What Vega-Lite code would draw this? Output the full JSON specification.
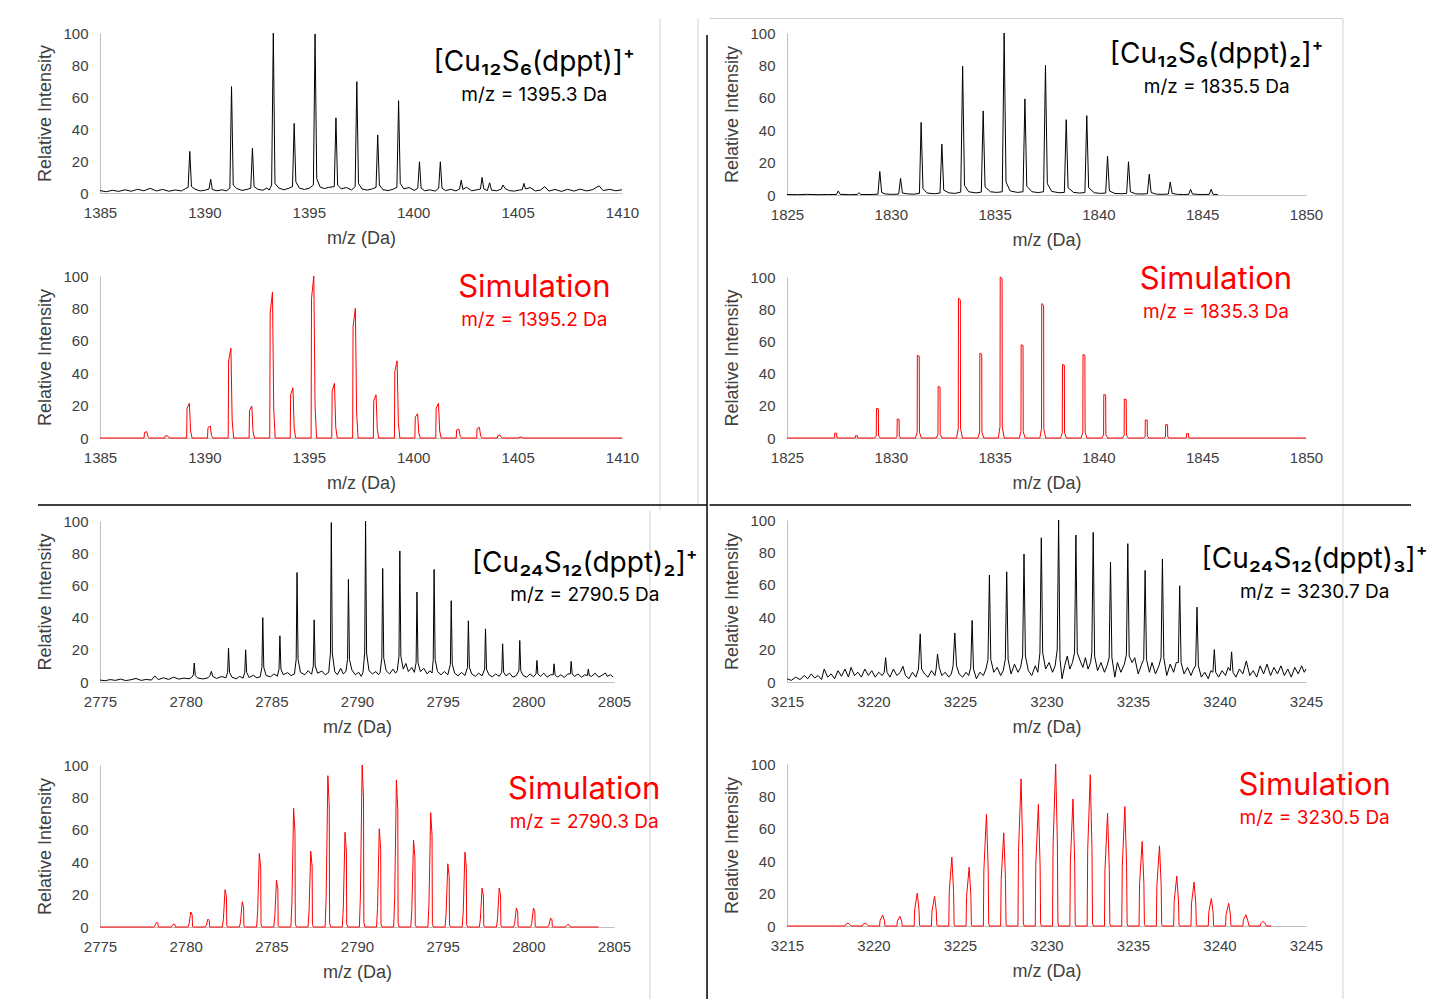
{
"$schema": "https://vega.github.io/schema/vega-lite/v6.json",
"background": "white",
"padding": {"left": 36, "top": 18, "right": 5, "bottom": 5},
"datasets": {
"A": [{"x":1385,"y":1.5},{"x":1385.3,"y":0.8},{"x":1385.6,"y":1.7},{"x":1385.9,"y":1},{"x":1386.2,"y":2},{"x":1386.5,"y":1.1},{"x":1386.8,"y":2.3},{"x":1387.1,"y":1.4},{"x":1387.4,"y":2.9},{"x":1387.7,"y":1.3},{"x":1388,"y":2.2},{"x":1388.3,"y":1.1},{"x":1388.6,"y":1.9},{"x":1388.9,"y":1.3},{"x":1389.1,"y":2.8},{"x":1389.22,"y":3.5},{"x":1389.3,"y":26},{"x":1389.38,"y":4},{"x":1389.55,"y":2.4},{"x":1389.8,"y":1.3},{"x":1390.05,"y":1.8},{"x":1390.22,"y":2.5},{"x":1390.3,"y":8.6},{"x":1390.38,"y":2.2},{"x":1390.6,"y":1.4},{"x":1390.85,"y":2},{"x":1391.05,"y":1.3},{"x":1391.22,"y":3},{"x":1391.3,"y":66.5},{"x":1391.38,"y":5},{"x":1391.55,"y":2.8},{"x":1391.8,"y":1.6},{"x":1392.05,"y":2.3},{"x":1392.22,"y":3},{"x":1392.3,"y":28},{"x":1392.38,"y":4},{"x":1392.55,"y":2.4},{"x":1392.8,"y":1.7},{"x":1393,"y":3.2},{"x":1393.1,"y":1.8},{"x":1393.22,"y":5},{"x":1393.3,"y":100},{"x":1393.38,"y":6},{"x":1393.55,"y":3.2},{"x":1393.8,"y":2},{"x":1394.05,"y":3},{"x":1394.22,"y":4},{"x":1394.3,"y":43.5},{"x":1394.38,"y":7},{"x":1394.55,"y":3},{"x":1394.8,"y":2.2},{"x":1395.05,"y":3.2},{"x":1395.22,"y":5},{"x":1395.3,"y":99.4},{"x":1395.38,"y":9},{"x":1395.55,"y":3.6},{"x":1395.75,"y":2.8},{"x":1395.95,"y":3.5},{"x":1396.22,"y":4},{"x":1396.3,"y":47},{"x":1396.38,"y":5},{"x":1396.55,"y":2.6},{"x":1396.8,"y":3.4},{"x":1397.05,"y":1.9},{"x":1397.22,"y":4},{"x":1397.3,"y":69.6},{"x":1397.38,"y":6},{"x":1397.55,"y":2.5},{"x":1397.8,"y":1.8},{"x":1398.05,"y":2.6},{"x":1398.22,"y":3.5},{"x":1398.3,"y":36.3},{"x":1398.38,"y":5},{"x":1398.55,"y":2.1},{"x":1398.8,"y":1.5},{"x":1399.05,"y":2.4},{"x":1399.22,"y":3.5},{"x":1399.3,"y":57.7},{"x":1399.38,"y":6},{"x":1399.55,"y":2.6},{"x":1399.8,"y":3.4},{"x":1400.05,"y":1.6},{"x":1400.22,"y":3},{"x":1400.3,"y":19.5},{"x":1400.38,"y":3},{"x":1400.55,"y":1.4},{"x":1400.8,"y":2},{"x":1401.05,"y":1.2},{"x":1401.22,"y":3},{"x":1401.3,"y":19.5},{"x":1401.38,"y":3},{"x":1401.55,"y":1.5},{"x":1401.8,"y":2.3},{"x":1402.05,"y":1.3},{"x":1402.22,"y":2.5},{"x":1402.3,"y":8},{"x":1402.38,"y":2.2},{"x":1402.55,"y":3.6},{"x":1402.8,"y":1.4},{"x":1403.05,"y":2},{"x":1403.22,"y":2.5},{"x":1403.3,"y":9.7},{"x":1403.38,"y":2.6},{"x":1403.55,"y":1.5},{"x":1403.66,"y":6.4},{"x":1403.75,"y":1.8},{"x":1404,"y":1.4},{"x":1404.22,"y":2.5},{"x":1404.3,"y":5},{"x":1404.4,"y":2.8},{"x":1404.6,"y":1.5},{"x":1404.85,"y":1.2},{"x":1405.1,"y":1.9},{"x":1405.22,"y":2},{"x":1405.3,"y":6},{"x":1405.38,"y":2.5},{"x":1405.6,"y":3.4},{"x":1405.85,"y":1.3},{"x":1406.1,"y":1.8},{"x":1406.3,"y":4},{"x":1406.5,"y":1.2},{"x":1406.8,"y":2.2},{"x":1407.1,"y":1},{"x":1407.4,"y":2.3},{"x":1407.7,"y":1.2},{"x":1408,"y":2.4},{"x":1408.3,"y":1.3},{"x":1408.6,"y":2.1},{"x":1408.9,"y":4.5},{"x":1409.1,"y":1.5},{"x":1409.4,"y":2.3},{"x":1409.7,"y":1.4},{"x":1410,"y":2}],
"B": [{"x":1385,"y":0},{"x":1387.11,"y":0},{"x":1387.13,"y":3.4},{"x":1387.24,"y":3.9},{"x":1387.3,"y":0.8},{"x":1387.37,"y":0},{"x":1388.1,"y":0},{"x":1388.12,"y":1.2},{"x":1388.23,"y":1.4},{"x":1388.29,"y":0.3},{"x":1388.36,"y":0},{"x":1389.15,"y":0},{"x":1389.17,"y":18.4},{"x":1389.28,"y":21.4},{"x":1389.34,"y":4.3},{"x":1389.41,"y":0},{"x":1390.15,"y":0},{"x":1390.17,"y":6.4},{"x":1390.28,"y":7.4},{"x":1390.34,"y":1.5},{"x":1390.41,"y":0},{"x":1391.14,"y":0},{"x":1391.16,"y":47.6},{"x":1391.27,"y":55.4},{"x":1391.33,"y":11},{"x":1391.4,"y":0},{"x":1392.14,"y":0},{"x":1392.16,"y":17},{"x":1392.27,"y":19.7},{"x":1392.33,"y":3.9},{"x":1392.4,"y":0},{"x":1393.13,"y":0},{"x":1393.15,"y":77.4},{"x":1393.26,"y":90},{"x":1393.32,"y":18},{"x":1393.39,"y":0},{"x":1394.11,"y":0},{"x":1394.13,"y":26.7},{"x":1394.24,"y":31},{"x":1394.3,"y":6.2},{"x":1394.37,"y":0},{"x":1395.11,"y":0},{"x":1395.13,"y":86},{"x":1395.24,"y":100},{"x":1395.3,"y":20},{"x":1395.37,"y":0},{"x":1396.1,"y":0},{"x":1396.12,"y":29},{"x":1396.23,"y":33.7},{"x":1396.29,"y":6.7},{"x":1396.36,"y":0},{"x":1397.1,"y":0},{"x":1397.12,"y":68.8},{"x":1397.23,"y":80},{"x":1397.29,"y":16},{"x":1397.36,"y":0},{"x":1398.09,"y":0},{"x":1398.11,"y":23},{"x":1398.22,"y":26.7},{"x":1398.28,"y":5.3},{"x":1398.35,"y":0},{"x":1399.1,"y":0},{"x":1399.12,"y":41},{"x":1399.23,"y":47.6},{"x":1399.29,"y":9.5},{"x":1399.36,"y":0},{"x":1400.08,"y":0},{"x":1400.1,"y":12.9},{"x":1400.21,"y":15},{"x":1400.27,"y":3},{"x":1400.34,"y":0},{"x":1401.08,"y":0},{"x":1401.1,"y":18.4},{"x":1401.21,"y":21.4},{"x":1401.27,"y":4.3},{"x":1401.34,"y":0},{"x":1402.06,"y":0},{"x":1402.08,"y":5},{"x":1402.19,"y":5.5},{"x":1402.25,"y":1.1},{"x":1402.32,"y":0},{"x":1403.04,"y":0},{"x":1403.06,"y":5.8},{"x":1403.17,"y":6.6},{"x":1403.23,"y":1.3},{"x":1403.3,"y":0},{"x":1404.03,"y":0},{"x":1404.05,"y":1.5},{"x":1404.16,"y":1.8},{"x":1404.22,"y":0.4},{"x":1404.29,"y":0},{"x":1405.02,"y":0},{"x":1405.15,"y":0.6},{"x":1405.28,"y":0},{"x":1410,"y":0}],
"C": [{"x":1825,"y":0.3},{"x":1825.5,"y":0.2},{"x":1826,"y":0.4},{"x":1826.5,"y":0.2},{"x":1827,"y":0.3},{"x":1827.38,"y":0.3},{"x":1827.47,"y":2.5},{"x":1827.56,"y":0.4},{"x":1828,"y":0.2},{"x":1828.38,"y":0.3},{"x":1828.47,"y":1.4},{"x":1828.56,"y":0.3},{"x":1829,"y":0.3},{"x":1829.38,"y":0.5},{"x":1829.47,"y":14.5},{"x":1829.56,"y":1.5},{"x":1829.75,"y":0.6},{"x":1830.1,"y":0.4},{"x":1830.38,"y":0.6},{"x":1830.47,"y":10.3},{"x":1830.56,"y":1.2},{"x":1830.8,"y":0.7},{"x":1831.1,"y":0.5},{"x":1831.38,"y":1},{"x":1831.46,"y":44.8},{"x":1831.55,"y":4},{"x":1831.75,"y":1.2},{"x":1832.1,"y":0.8},{"x":1832.37,"y":1.2},{"x":1832.46,"y":31.4},{"x":1832.55,"y":3},{"x":1832.8,"y":1.3},{"x":1833.1,"y":1},{"x":1833.37,"y":1.8},{"x":1833.46,"y":79.5},{"x":1833.55,"y":6},{"x":1833.75,"y":2},{"x":1834.1,"y":1.3},{"x":1834.36,"y":1.8},{"x":1834.45,"y":51.9},{"x":1834.54,"y":5},{"x":1834.8,"y":2},{"x":1835.1,"y":1.6},{"x":1835.37,"y":2},{"x":1835.46,"y":100},{"x":1835.55,"y":8},{"x":1835.75,"y":2.5},{"x":1836.1,"y":1.6},{"x":1836.37,"y":2},{"x":1836.46,"y":59.3},{"x":1836.55,"y":5.5},{"x":1836.8,"y":2},{"x":1837.1,"y":1.5},{"x":1837.36,"y":2},{"x":1837.45,"y":80},{"x":1837.54,"y":7},{"x":1837.75,"y":2.2},{"x":1838.1,"y":1.4},{"x":1838.36,"y":1.6},{"x":1838.45,"y":46.5},{"x":1838.54,"y":4.5},{"x":1838.8,"y":1.6},{"x":1839.1,"y":1.2},{"x":1839.35,"y":1.5},{"x":1839.44,"y":49},{"x":1839.53,"y":4.5},{"x":1839.8,"y":1.4},{"x":1840.1,"y":1},{"x":1840.35,"y":1.2},{"x":1840.44,"y":24},{"x":1840.53,"y":2.5},{"x":1840.8,"y":0.9},{"x":1841.1,"y":0.8},{"x":1841.36,"y":1},{"x":1841.45,"y":20.5},{"x":1841.54,"y":2},{"x":1841.8,"y":0.7},{"x":1842.1,"y":0.6},{"x":1842.36,"y":0.8},{"x":1842.45,"y":12.8},{"x":1842.54,"y":1.5},{"x":1842.8,"y":0.5},{"x":1843.1,"y":0.4},{"x":1843.37,"y":0.6},{"x":1843.46,"y":8},{"x":1843.55,"y":1},{"x":1843.8,"y":0.4},{"x":1844.1,"y":0.3},{"x":1844.35,"y":0.4},{"x":1844.44,"y":3.5},{"x":1844.53,"y":0.6},{"x":1844.9,"y":0.3},{"x":1845.34,"y":0.4},{"x":1845.43,"y":3.5},{"x":1845.52,"y":0.4},{"x":1845.75,"y":0.3}],
"D": [{"x":1825,"y":0},{"x":1827.21,"y":0},{"x":1827.29,"y":0.2},{"x":1827.3,"y":3},{"x":1827.39,"y":3},{"x":1827.4,"y":0.2},{"x":1827.49,"y":0},{"x":1828.21,"y":0},{"x":1828.29,"y":0.1},{"x":1828.3,"y":1.4},{"x":1828.39,"y":1.4},{"x":1828.4,"y":0.1},{"x":1828.49,"y":0},{"x":1829.22,"y":0},{"x":1829.3,"y":1.3},{"x":1829.31,"y":18.4},{"x":1829.4,"y":18.2},{"x":1829.41,"y":1.3},{"x":1829.5,"y":0},{"x":1830.22,"y":0},{"x":1830.3,"y":0.8},{"x":1830.31,"y":11.8},{"x":1830.4,"y":11.6},{"x":1830.41,"y":0.8},{"x":1830.5,"y":0},{"x":1831.19,"y":0},{"x":1831.27,"y":3.6},{"x":1831.28,"y":51.4},{"x":1831.37,"y":50.8},{"x":1831.38,"y":3.6},{"x":1831.47,"y":0},{"x":1832.19,"y":0},{"x":1832.27,"y":2.2},{"x":1832.28,"y":32},{"x":1832.37,"y":31.6},{"x":1832.38,"y":2.2},{"x":1832.47,"y":0},{"x":1833.17,"y":0},{"x":1833.25,"y":6},{"x":1833.26,"y":86.8},{"x":1833.35,"y":85.8},{"x":1833.36,"y":6},{"x":1833.45,"y":0},{"x":1834.2,"y":0},{"x":1834.28,"y":3.7},{"x":1834.29,"y":52.7},{"x":1834.38,"y":52},{"x":1834.39,"y":3.7},{"x":1834.48,"y":0},{"x":1835.18,"y":0},{"x":1835.26,"y":7},{"x":1835.27,"y":100},{"x":1835.36,"y":99},{"x":1835.37,"y":7},{"x":1835.46,"y":0},{"x":1836.19,"y":0},{"x":1836.27,"y":4},{"x":1836.28,"y":57.9},{"x":1836.37,"y":57.3},{"x":1836.38,"y":4},{"x":1836.47,"y":0},{"x":1837.18,"y":0},{"x":1837.26,"y":5.8},{"x":1837.27,"y":83.5},{"x":1837.36,"y":82.5},{"x":1837.37,"y":5.8},{"x":1837.46,"y":0},{"x":1838.18,"y":0},{"x":1838.26,"y":3.2},{"x":1838.27,"y":45.7},{"x":1838.36,"y":45.2},{"x":1838.37,"y":3.2},{"x":1838.46,"y":0},{"x":1839.17,"y":0},{"x":1839.25,"y":3.6},{"x":1839.26,"y":51.9},{"x":1839.35,"y":51.3},{"x":1839.36,"y":3.6},{"x":1839.45,"y":0},{"x":1840.17,"y":0},{"x":1840.25,"y":1.9},{"x":1840.26,"y":27},{"x":1840.35,"y":26.7},{"x":1840.36,"y":1.9},{"x":1840.45,"y":0},{"x":1841.16,"y":0},{"x":1841.24,"y":1.7},{"x":1841.25,"y":24.2},{"x":1841.34,"y":23.9},{"x":1841.35,"y":1.7},{"x":1841.44,"y":0},{"x":1842.17,"y":0},{"x":1842.25,"y":0.8},{"x":1842.26,"y":11.2},{"x":1842.35,"y":11.1},{"x":1842.36,"y":0.8},{"x":1842.45,"y":0},{"x":1843.15,"y":0},{"x":1843.23,"y":0.6},{"x":1843.24,"y":8.3},{"x":1843.33,"y":8.2},{"x":1843.34,"y":0.6},{"x":1843.43,"y":0},{"x":1844.16,"y":0},{"x":1844.24,"y":0.2},{"x":1844.25,"y":2.7},{"x":1844.34,"y":2.7},{"x":1844.35,"y":0.2},{"x":1844.44,"y":0},{"x":1850,"y":0}],
"E": [{"x":2775,"y":1.2},{"x":2775.3,"y":0.8},{"x":2775.6,"y":1.5},{"x":2775.9,"y":1},{"x":2776.2,"y":1.8},{"x":2776.5,"y":0.9},{"x":2776.8,"y":1.4},{"x":2777.1,"y":2.2},{"x":2777.4,"y":1},{"x":2777.7,"y":1.6},{"x":2778,"y":1.2},{"x":2778.2,"y":3.8},{"x":2778.4,"y":1.5},{"x":2778.7,"y":2.6},{"x":2779,"y":1.6},{"x":2779.3,"y":3},{"x":2779.6,"y":1.8},{"x":2779.9,"y":2.4},{"x":2780.2,"y":2},{"x":2780.35,"y":2.8},{"x":2780.45,"y":4.5},{"x":2780.5,"y":11.8},{"x":2780.56,"y":4},{"x":2780.7,"y":2.5},{"x":2781,"y":1.9},{"x":2781.3,"y":2.6},{"x":2781.42,"y":4},{"x":2781.5,"y":6.6},{"x":2781.58,"y":3.5},{"x":2781.8,"y":2.2},{"x":2782.1,"y":3.4},{"x":2782.35,"y":2.6},{"x":2782.45,"y":6},{"x":2782.5,"y":21},{"x":2782.56,"y":6},{"x":2782.7,"y":3},{"x":2782.95,"y":2},{"x":2783.15,"y":3.5},{"x":2783.35,"y":2.4},{"x":2783.45,"y":6},{"x":2783.5,"y":20},{"x":2783.56,"y":6},{"x":2783.7,"y":2.8},{"x":2783.95,"y":4.2},{"x":2784.15,"y":2.6},{"x":2784.35,"y":3.2},{"x":2784.45,"y":9},{"x":2784.5,"y":40},{"x":2784.56,"y":9},{"x":2784.7,"y":4},{"x":2784.95,"y":3.2},{"x":2785.15,"y":5},{"x":2785.35,"y":3.6},{"x":2785.45,"y":8},{"x":2785.5,"y":28.7},{"x":2785.56,"y":8},{"x":2785.7,"y":4.5},{"x":2785.95,"y":5.8},{"x":2786.15,"y":4},{"x":2786.35,"y":5},{"x":2786.45,"y":14},{"x":2786.5,"y":68},{"x":2786.56,"y":14},{"x":2786.7,"y":6},{"x":2786.95,"y":4.5},{"x":2787.15,"y":7},{"x":2787.35,"y":4.8},{"x":2787.45,"y":10},{"x":2787.5,"y":38.6},{"x":2787.56,"y":10},{"x":2787.7,"y":5.5},{"x":2787.95,"y":6.8},{"x":2788.15,"y":4.5},{"x":2788.35,"y":6},{"x":2788.45,"y":18},{"x":2788.5,"y":99},{"x":2788.56,"y":18},{"x":2788.7,"y":6.5},{"x":2788.85,"y":4.5},{"x":2789.05,"y":8.5},{"x":2789.2,"y":5},{"x":2789.35,"y":6.5},{"x":2789.45,"y":14},{"x":2789.5,"y":63.7},{"x":2789.56,"y":14},{"x":2789.7,"y":7.5},{"x":2789.9,"y":4.5},{"x":2790.1,"y":6},{"x":2790.25,"y":3.5},{"x":2790.35,"y":6},{"x":2790.45,"y":18},{"x":2790.5,"y":100},{"x":2790.56,"y":18},{"x":2790.7,"y":7},{"x":2790.9,"y":5},{"x":2791.1,"y":6.5},{"x":2791.25,"y":4.5},{"x":2791.35,"y":6},{"x":2791.45,"y":15},{"x":2791.5,"y":70.5},{"x":2791.56,"y":15},{"x":2791.7,"y":7},{"x":2791.9,"y":5},{"x":2792.1,"y":8},{"x":2792.25,"y":5.5},{"x":2792.35,"y":7},{"x":2792.45,"y":16},{"x":2792.5,"y":81.4},{"x":2792.56,"y":16},{"x":2792.7,"y":8},{"x":2792.85,"y":11.5},{"x":2793,"y":6.5},{"x":2793.2,"y":9},{"x":2793.35,"y":6},{"x":2793.45,"y":12},{"x":2793.5,"y":55.9},{"x":2793.56,"y":12},{"x":2793.7,"y":6.5},{"x":2793.9,"y":8.5},{"x":2794.1,"y":5},{"x":2794.25,"y":7},{"x":2794.38,"y":5.5},{"x":2794.45,"y":14},{"x":2794.5,"y":69.9},{"x":2794.56,"y":14},{"x":2794.7,"y":6.5},{"x":2794.9,"y":4.5},{"x":2795.1,"y":6.5},{"x":2795.3,"y":4.5},{"x":2795.45,"y":11},{"x":2795.5,"y":50.5},{"x":2795.56,"y":11},{"x":2795.7,"y":5.5},{"x":2795.9,"y":3.8},{"x":2796.1,"y":6},{"x":2796.3,"y":4},{"x":2796.45,"y":9},{"x":2796.5,"y":38},{"x":2796.56,"y":9},{"x":2796.7,"y":5},{"x":2796.9,"y":3.5},{"x":2797.1,"y":5.5},{"x":2797.3,"y":3.8},{"x":2797.45,"y":8},{"x":2797.5,"y":33},{"x":2797.56,"y":8},{"x":2797.7,"y":4.5},{"x":2797.9,"y":3.2},{"x":2798.1,"y":5},{"x":2798.3,"y":3.5},{"x":2798.45,"y":6},{"x":2798.5,"y":23.7},{"x":2798.56,"y":6},{"x":2798.7,"y":3.8},{"x":2798.9,"y":5.5},{"x":2799.1,"y":3},{"x":2799.3,"y":4},{"x":2799.45,"y":7},{"x":2799.5,"y":25.8},{"x":2799.56,"y":7},{"x":2799.7,"y":4},{"x":2799.9,"y":3},{"x":2800.1,"y":5},{"x":2800.3,"y":3.2},{"x":2800.45,"y":5},{"x":2800.5,"y":13.4},{"x":2800.56,"y":5},{"x":2800.7,"y":3.5},{"x":2800.9,"y":5.5},{"x":2801.1,"y":3},{"x":2801.3,"y":4.5},{"x":2801.45,"y":4.5},{"x":2801.5,"y":11.3},{"x":2801.56,"y":4.5},{"x":2801.7,"y":3},{"x":2801.9,"y":4.5},{"x":2802.1,"y":2.8},{"x":2802.3,"y":5},{"x":2802.45,"y":5},{"x":2802.5,"y":12.8},{"x":2802.56,"y":5},{"x":2802.7,"y":3.5},{"x":2802.9,"y":5},{"x":2803.1,"y":3},{"x":2803.3,"y":4.5},{"x":2803.45,"y":4},{"x":2803.5,"y":8},{"x":2803.56,"y":4},{"x":2803.7,"y":3.5},{"x":2803.9,"y":5.5},{"x":2804.1,"y":3},{"x":2804.3,"y":4.2},{"x":2804.5,"y":5.6},{"x":2804.6,"y":3.5},{"x":2804.8,"y":4.5},{"x":2804.95,"y":3}],
"F": [{"x":2775,"y":0},{"x":2778.14,"y":0},{"x":2778.2,"y":0.6},{"x":2778.3,"y":2.9},{"x":2778.38,"y":2.3},{"x":2778.4,"y":0.1},{"x":2778.46,"y":0},{"x":2779.14,"y":0},{"x":2779.2,"y":0.4},{"x":2779.3,"y":1.9},{"x":2779.38,"y":1.5},{"x":2779.4,"y":0.1},{"x":2779.46,"y":0},{"x":2780.14,"y":0},{"x":2780.2,"y":1.9},{"x":2780.3,"y":9.3},{"x":2780.38,"y":7.4},{"x":2780.4,"y":0.3},{"x":2780.46,"y":0},{"x":2781.14,"y":0},{"x":2781.2,"y":1},{"x":2781.3,"y":4.9},{"x":2781.38,"y":3.9},{"x":2781.4,"y":0.1},{"x":2781.46,"y":0},{"x":2782.14,"y":0},{"x":2782.2,"y":4.6},{"x":2782.3,"y":23},{"x":2782.38,"y":18.4},{"x":2782.4,"y":0.7},{"x":2782.46,"y":0},{"x":2783.14,"y":0},{"x":2783.2,"y":3.1},{"x":2783.3,"y":15.6},{"x":2783.38,"y":12.5},{"x":2783.4,"y":0.5},{"x":2783.46,"y":0},{"x":2784.14,"y":0},{"x":2784.2,"y":9.1},{"x":2784.3,"y":45.4},{"x":2784.38,"y":36.3},{"x":2784.4,"y":1.4},{"x":2784.46,"y":0},{"x":2785.14,"y":0},{"x":2785.2,"y":5.8},{"x":2785.3,"y":29},{"x":2785.38,"y":23.2},{"x":2785.4,"y":0.9},{"x":2785.46,"y":0},{"x":2786.14,"y":0},{"x":2786.2,"y":14.7},{"x":2786.3,"y":73.3},{"x":2786.38,"y":58.6},{"x":2786.4,"y":2.2},{"x":2786.46,"y":0},{"x":2787.14,"y":0},{"x":2787.2,"y":9.4},{"x":2787.3,"y":46.8},{"x":2787.38,"y":37.4},{"x":2787.4,"y":1.4},{"x":2787.46,"y":0},{"x":2788.14,"y":0},{"x":2788.2,"y":18.7},{"x":2788.3,"y":93.4},{"x":2788.38,"y":74.7},{"x":2788.4,"y":2.8},{"x":2788.46,"y":0},{"x":2789.14,"y":0},{"x":2789.2,"y":11.7},{"x":2789.3,"y":58.5},{"x":2789.38,"y":46.8},{"x":2789.4,"y":1.8},{"x":2789.46,"y":0},{"x":2790.14,"y":0},{"x":2790.2,"y":20},{"x":2790.3,"y":100},{"x":2790.38,"y":80},{"x":2790.4,"y":3},{"x":2790.46,"y":0},{"x":2791.14,"y":0},{"x":2791.2,"y":12.1},{"x":2791.3,"y":60.6},{"x":2791.38,"y":48.5},{"x":2791.4,"y":1.8},{"x":2791.46,"y":0},{"x":2792.14,"y":0},{"x":2792.2,"y":18.2},{"x":2792.3,"y":90.8},{"x":2792.38,"y":72.6},{"x":2792.4,"y":2.7},{"x":2792.46,"y":0},{"x":2793.14,"y":0},{"x":2793.2,"y":10.7},{"x":2793.3,"y":53.6},{"x":2793.38,"y":42.9},{"x":2793.4,"y":1.6},{"x":2793.46,"y":0},{"x":2794.14,"y":0},{"x":2794.2,"y":14.1},{"x":2794.3,"y":70.6},{"x":2794.38,"y":56.5},{"x":2794.4,"y":2.1},{"x":2794.46,"y":0},{"x":2795.14,"y":0},{"x":2795.2,"y":7.8},{"x":2795.3,"y":39},{"x":2795.38,"y":31.2},{"x":2795.4,"y":1.2},{"x":2795.46,"y":0},{"x":2796.14,"y":0},{"x":2796.2,"y":9.2},{"x":2796.3,"y":46.2},{"x":2796.38,"y":37},{"x":2796.4,"y":1.4},{"x":2796.46,"y":0},{"x":2797.14,"y":0},{"x":2797.2,"y":4.8},{"x":2797.3,"y":24},{"x":2797.38,"y":19.2},{"x":2797.4,"y":0.7},{"x":2797.46,"y":0},{"x":2798.14,"y":0},{"x":2798.2,"y":4.8},{"x":2798.3,"y":24},{"x":2798.38,"y":19.2},{"x":2798.4,"y":0.7},{"x":2798.46,"y":0},{"x":2799.14,"y":0},{"x":2799.2,"y":2.3},{"x":2799.3,"y":11.7},{"x":2799.38,"y":9.4},{"x":2799.4,"y":0.4},{"x":2799.46,"y":0},{"x":2800.14,"y":0},{"x":2800.2,"y":2.3},{"x":2800.3,"y":11.7},{"x":2800.38,"y":9.4},{"x":2800.4,"y":0.4},{"x":2800.46,"y":0},{"x":2801.14,"y":0},{"x":2801.2,"y":1.1},{"x":2801.3,"y":5.5},{"x":2801.38,"y":4.4},{"x":2801.4,"y":0.2},{"x":2801.46,"y":0},{"x":2802.14,"y":0},{"x":2802.2,"y":0.3},{"x":2802.3,"y":1.6},{"x":2802.38,"y":1.3},{"x":2802.46,"y":0},{"x":2804.1,"y":0}],
"G": [{"x":3215,"y":2},{"x":3215.25,"y":1},{"x":3215.5,"y":3},{"x":3215.75,"y":1.5},{"x":3216,"y":4},{"x":3216.2,"y":2},{"x":3216.4,"y":5},{"x":3216.6,"y":2.5},{"x":3216.8,"y":4},{"x":3217,"y":1.5},{"x":3217.15,"y":8},{"x":3217.35,"y":3},{"x":3217.55,"y":5},{"x":3217.75,"y":2},{"x":3217.95,"y":7},{"x":3218.15,"y":3.5},{"x":3218.35,"y":8},{"x":3218.55,"y":3},{"x":3218.7,"y":9},{"x":3218.9,"y":4},{"x":3219.1,"y":6},{"x":3219.3,"y":3},{"x":3219.5,"y":8},{"x":3219.7,"y":4},{"x":3219.9,"y":7},{"x":3220.1,"y":3},{"x":3220.3,"y":6},{"x":3220.5,"y":4},{"x":3220.62,"y":6},{"x":3220.7,"y":15},{"x":3220.78,"y":6},{"x":3220.95,"y":3},{"x":3221.15,"y":8},{"x":3221.35,"y":4},{"x":3221.55,"y":6},{"x":3221.7,"y":9.7},{"x":3221.85,"y":4},{"x":3222.05,"y":2},{"x":3222.25,"y":6},{"x":3222.45,"y":3},{"x":3222.6,"y":8},{"x":3222.7,"y":29.7},{"x":3222.78,"y":8},{"x":3222.95,"y":5},{"x":3223.15,"y":3},{"x":3223.35,"y":7},{"x":3223.55,"y":4},{"x":3223.62,"y":8},{"x":3223.7,"y":17.3},{"x":3223.8,"y":9},{"x":3223.95,"y":4},{"x":3224.15,"y":6},{"x":3224.35,"y":3},{"x":3224.5,"y":5},{"x":3224.6,"y":10},{"x":3224.7,"y":30.3},{"x":3224.8,"y":10},{"x":3224.95,"y":5},{"x":3225.15,"y":3},{"x":3225.35,"y":6},{"x":3225.5,"y":4},{"x":3225.62,"y":9},{"x":3225.7,"y":38},{"x":3225.78,"y":8},{"x":3225.95,"y":2},{"x":3226.15,"y":6},{"x":3226.35,"y":4},{"x":3226.5,"y":8},{"x":3226.62,"y":14},{"x":3226.7,"y":66},{"x":3226.78,"y":14},{"x":3226.95,"y":6},{"x":3227.15,"y":9},{"x":3227.35,"y":4},{"x":3227.5,"y":7},{"x":3227.62,"y":14},{"x":3227.7,"y":68},{"x":3227.78,"y":14},{"x":3227.95,"y":5},{"x":3228.15,"y":11},{"x":3228.35,"y":6},{"x":3228.5,"y":9},{"x":3228.62,"y":16},{"x":3228.7,"y":79},{"x":3228.78,"y":16},{"x":3228.95,"y":7},{"x":3229.15,"y":4},{"x":3229.35,"y":10},{"x":3229.5,"y":6},{"x":3229.62,"y":18},{"x":3229.7,"y":89},{"x":3229.78,"y":18},{"x":3229.95,"y":8},{"x":3230.15,"y":12},{"x":3230.35,"y":6},{"x":3230.5,"y":10},{"x":3230.62,"y":20},{"x":3230.7,"y":100},{"x":3230.78,"y":14},{"x":3230.9,"y":2},{"x":3231.05,"y":10},{"x":3231.2,"y":16},{"x":3231.35,"y":8},{"x":3231.5,"y":12},{"x":3231.62,"y":18},{"x":3231.7,"y":90.7},{"x":3231.78,"y":18},{"x":3231.95,"y":13},{"x":3232.1,"y":9},{"x":3232.25,"y":15},{"x":3232.4,"y":8},{"x":3232.55,"y":12},{"x":3232.62,"y":18},{"x":3232.7,"y":92.4},{"x":3232.78,"y":16},{"x":3232.95,"y":7},{"x":3233.15,"y":12},{"x":3233.35,"y":6},{"x":3233.5,"y":10},{"x":3233.62,"y":15},{"x":3233.7,"y":74},{"x":3233.78,"y":15},{"x":3233.95,"y":3},{"x":3234.1,"y":12},{"x":3234.3,"y":6},{"x":3234.5,"y":11},{"x":3234.62,"y":17},{"x":3234.7,"y":85.4},{"x":3234.78,"y":16},{"x":3234.95,"y":12},{"x":3235.1,"y":15},{"x":3235.3,"y":5},{"x":3235.5,"y":11},{"x":3235.62,"y":14},{"x":3235.7,"y":68.9},{"x":3235.78,"y":14},{"x":3235.95,"y":6},{"x":3236.1,"y":12},{"x":3236.3,"y":5},{"x":3236.5,"y":10},{"x":3236.62,"y":15},{"x":3236.7,"y":75.9},{"x":3236.78,"y":15},{"x":3236.95,"y":4},{"x":3237.15,"y":11},{"x":3237.35,"y":6},{"x":3237.5,"y":12},{"x":3237.62,"y":12},{"x":3237.7,"y":59.4},{"x":3237.78,"y":12},{"x":3237.95,"y":5},{"x":3238.15,"y":9},{"x":3238.35,"y":4},{"x":3238.5,"y":8},{"x":3238.62,"y":10},{"x":3238.7,"y":46.2},{"x":3238.78,"y":10},{"x":3238.95,"y":3},{"x":3239.15,"y":6},{"x":3239.35,"y":2},{"x":3239.5,"y":7},{"x":3239.62,"y":6},{"x":3239.7,"y":20},{"x":3239.78,"y":6},{"x":3239.95,"y":3},{"x":3240.15,"y":7},{"x":3240.35,"y":4},{"x":3240.5,"y":9},{"x":3240.62,"y":7},{"x":3240.7,"y":18.6},{"x":3240.78,"y":6},{"x":3240.95,"y":3},{"x":3241.15,"y":8},{"x":3241.35,"y":5},{"x":3241.55,"y":13},{"x":3241.75,"y":4},{"x":3241.95,"y":7},{"x":3242.15,"y":3},{"x":3242.35,"y":10},{"x":3242.55,"y":5},{"x":3242.75,"y":11},{"x":3242.95,"y":4},{"x":3243.15,"y":9},{"x":3243.35,"y":5},{"x":3243.55,"y":10},{"x":3243.75,"y":4},{"x":3243.95,"y":8},{"x":3244.15,"y":3},{"x":3244.35,"y":9},{"x":3244.55,"y":5},{"x":3244.75,"y":10},{"x":3244.9,"y":6},{"x":3245,"y":8}],
"H": [{"x":3215,"y":0},{"x":3218.35,"y":0},{"x":3218.38,"y":0.9},{"x":3218.53,"y":1.8},{"x":3218.63,"y":0.9},{"x":3218.71,"y":0},{"x":3219.35,"y":0},{"x":3219.38,"y":0.9},{"x":3219.53,"y":1.8},{"x":3219.63,"y":0.9},{"x":3219.71,"y":0},{"x":3220.35,"y":0},{"x":3220.38,"y":3.4},{"x":3220.53,"y":6.8},{"x":3220.63,"y":3.4},{"x":3220.66,"y":0.1},{"x":3220.71,"y":0},{"x":3221.35,"y":0},{"x":3221.38,"y":3},{"x":3221.53,"y":6},{"x":3221.63,"y":3},{"x":3221.66,"y":0.1},{"x":3221.71,"y":0},{"x":3222.35,"y":0},{"x":3222.38,"y":10.2},{"x":3222.53,"y":20.3},{"x":3222.63,"y":10.2},{"x":3222.66,"y":0.4},{"x":3222.71,"y":0},{"x":3223.35,"y":0},{"x":3223.38,"y":9.2},{"x":3223.53,"y":18.3},{"x":3223.63,"y":9.2},{"x":3223.66,"y":0.4},{"x":3223.71,"y":0},{"x":3224.35,"y":0},{"x":3224.38,"y":21.3},{"x":3224.53,"y":42.5},{"x":3224.63,"y":21.3},{"x":3224.66,"y":0.9},{"x":3224.71,"y":0},{"x":3225.35,"y":0},{"x":3225.38,"y":18.2},{"x":3225.53,"y":36.3},{"x":3225.63,"y":18.2},{"x":3225.66,"y":0.7},{"x":3225.71,"y":0},{"x":3226.35,"y":0},{"x":3226.38,"y":34.5},{"x":3226.53,"y":69},{"x":3226.63,"y":34.5},{"x":3226.66,"y":1.4},{"x":3226.71,"y":0},{"x":3227.35,"y":0},{"x":3227.38,"y":28.8},{"x":3227.53,"y":57.5},{"x":3227.63,"y":28.8},{"x":3227.66,"y":1.2},{"x":3227.71,"y":0},{"x":3228.35,"y":0},{"x":3228.38,"y":45.4},{"x":3228.53,"y":90.8},{"x":3228.63,"y":45.4},{"x":3228.66,"y":1.8},{"x":3228.71,"y":0},{"x":3229.35,"y":0},{"x":3229.38,"y":37.5},{"x":3229.53,"y":75},{"x":3229.63,"y":37.5},{"x":3229.66,"y":1.5},{"x":3229.71,"y":0},{"x":3230.35,"y":0},{"x":3230.38,"y":50},{"x":3230.53,"y":100},{"x":3230.63,"y":50},{"x":3230.66,"y":2},{"x":3230.71,"y":0},{"x":3231.35,"y":0},{"x":3231.38,"y":39.2},{"x":3231.53,"y":78.4},{"x":3231.63,"y":39.2},{"x":3231.66,"y":1.6},{"x":3231.71,"y":0},{"x":3232.35,"y":0},{"x":3232.38,"y":46.7},{"x":3232.53,"y":93.4},{"x":3232.63,"y":46.7},{"x":3232.66,"y":1.9},{"x":3232.71,"y":0},{"x":3233.35,"y":0},{"x":3233.38,"y":34.8},{"x":3233.53,"y":69.6},{"x":3233.63,"y":34.8},{"x":3233.66,"y":1.4},{"x":3233.71,"y":0},{"x":3234.35,"y":0},{"x":3234.38,"y":36.9},{"x":3234.53,"y":73.7},{"x":3234.63,"y":36.9},{"x":3234.66,"y":1.5},{"x":3234.71,"y":0},{"x":3235.35,"y":0},{"x":3235.38,"y":26.1},{"x":3235.53,"y":52.2},{"x":3235.63,"y":26.1},{"x":3235.66,"y":1},{"x":3235.71,"y":0},{"x":3236.35,"y":0},{"x":3236.38,"y":24.8},{"x":3236.53,"y":49.5},{"x":3236.63,"y":24.8},{"x":3236.66,"y":1},{"x":3236.71,"y":0},{"x":3237.35,"y":0},{"x":3237.38,"y":15.4},{"x":3237.53,"y":30.8},{"x":3237.63,"y":15.4},{"x":3237.66,"y":0.6},{"x":3237.71,"y":0},{"x":3238.35,"y":0},{"x":3238.38,"y":13.6},{"x":3238.53,"y":27.1},{"x":3238.63,"y":13.6},{"x":3238.66,"y":0.5},{"x":3238.71,"y":0},{"x":3239.35,"y":0},{"x":3239.38,"y":8.5},{"x":3239.53,"y":17},{"x":3239.63,"y":8.5},{"x":3239.66,"y":0.3},{"x":3239.71,"y":0},{"x":3240.35,"y":0},{"x":3240.38,"y":7},{"x":3240.53,"y":14},{"x":3240.63,"y":7},{"x":3240.66,"y":0.3},{"x":3240.71,"y":0},{"x":3241.35,"y":0},{"x":3241.38,"y":3.5},{"x":3241.53,"y":7},{"x":3241.63,"y":3.5},{"x":3241.71,"y":0},{"x":3242.35,"y":0},{"x":3242.38,"y":1.5},{"x":3242.53,"y":2.9},{"x":3242.63,"y":1.5},{"x":3242.71,"y":0},{"x":3243,"y":0}]
},
"spacing": 0,
"hconcat": [
{"spacing": 83, "bounds": "flush", "vconcat": [
 {"width": 522, "height": 160, "layer": [
  {"data": {"name": "A"}, "mark": {"type": "line", "color": "#000000", "strokeWidth": 1, "strokeJoin": "round"}, "encoding": {
   "x": {"field": "x", "type": "quantitative", "scale": {"domain": [1385, 1410], "nice": false, "zero": false}, "axis": {"title": "m/z (Da)", "values": [1385, 1390, 1395, 1400, 1405, 1410], "tickCount": 20}},
   "y": {"field": "y", "type": "quantitative", "scale": {"domain": [0, 100], "nice": false}, "axis": {"title": "Relative Intensity", "values": [0, 20, 40, 60, 80, 100], "tickCount": 20}}}},
  {"data": {"values": [{"x": 1405.8, "y": 81, "t": "[Cu₁₂S₆(dppt)]⁺"}]}, "mark": {"type": "text", "fontSize": 28, "color": "#000000"}, "encoding": {"x": {"field": "x", "type": "quantitative"}, "y": {"field": "y", "type": "quantitative"}, "text": {"field": "t"}}},
  {"data": {"values": [{"x": 1405.8, "y": 61, "t": "m/z = 1395.3 Da"}]}, "mark": {"type": "text", "fontSize": 19, "color": "#000000"}, "encoding": {"x": {"field": "x", "type": "quantitative"}, "y": {"field": "y", "type": "quantitative"}, "text": {"field": "t"}}},
  {"data": {"values": [{"x": 1411.82, "x2": 1411.82, "y": 109.06, "y2": -198.4}, {"x": 1413.64, "x2": 1413.64, "y": 109.06, "y2": -195.3}]}, "mark": {"type": "rule", "color": "#d0d0d0", "strokeWidth": 1}, "encoding": {"x": {"field": "x", "type": "quantitative"}, "x2": {"field": "x2"}, "y": {"field": "y", "type": "quantitative"}, "y2": {"field": "y2"}}}
 ]},
 {"width": 522, "height": 162, "layer": [
  {"data": {"name": "B"}, "mark": {"type": "line", "color": "#ff0000", "strokeWidth": 1, "strokeJoin": "round"}, "encoding": {
   "x": {"field": "x", "type": "quantitative", "scale": {"domain": [1385, 1410], "nice": false, "zero": false}, "axis": {"title": "m/z (Da)", "values": [1385, 1390, 1395, 1400, 1405, 1410], "tickCount": 20}},
   "y": {"field": "y", "type": "quantitative", "scale": {"domain": [0, 100], "nice": false}, "axis": {"title": "Relative Intensity", "values": [0, 20, 40, 60, 80, 100], "tickCount": 20}}}},
  {"data": {"values": [{"x": 1405.8, "y": 92.6, "t": "Simulation"}]}, "mark": {"type": "text", "fontSize": 31, "color": "#ff0000"}, "encoding": {"x": {"field": "x", "type": "quantitative"}, "y": {"field": "y", "type": "quantitative"}, "text": {"field": "t"}}},
  {"data": {"values": [{"x": 1405.8, "y": 72.8, "t": "m/z = 1395.2 Da"}]}, "mark": {"type": "text", "fontSize": 19, "color": "#ff0000"}, "encoding": {"x": {"field": "x", "type": "quantitative"}, "y": {"field": "y", "type": "quantitative"}, "text": {"field": "t"}}}
 ]},
 {"width": 514, "height": 161, "layer": [
  {"data": {"name": "E"}, "mark": {"type": "line", "color": "#000000", "strokeWidth": 1, "strokeJoin": "round"}, "encoding": {
   "x": {"field": "x", "type": "quantitative", "scale": {"domain": [2775, 2805], "nice": false, "zero": false}, "axis": {"title": "m/z (Da)", "values": [2775, 2780, 2785, 2790, 2795, 2800, 2805], "tickCount": 20}},
   "y": {"field": "y", "type": "quantitative", "scale": {"domain": [0, 100], "nice": false}, "axis": {"title": "Relative Intensity", "values": [0, 20, 40, 60, 80, 100], "tickCount": 20}}}},
  {"data": {"values": [{"x": 2807.1, "x2": 2807.1, "y": 106.5, "y2": -197.2}]}, "mark": {"type": "rule", "color": "#d0d0d0", "strokeWidth": 1}, "encoding": {"x": {"field": "x", "type": "quantitative"}, "x2": {"field": "x2"}, "y": {"field": "y", "type": "quantitative"}, "y2": {"field": "y2"}}},
  {"data": {"values": [{"x": 2803.3, "y": 73.3, "t": "[Cu₂₄S₁₂(dppt)₂]⁺"}]}, "mark": {"type": "text", "fontSize": 28, "color": "#000000"}, "encoding": {"x": {"field": "x", "type": "quantitative"}, "y": {"field": "y", "type": "quantitative"}, "text": {"field": "t"}}},
  {"data": {"values": [{"x": 2803.3, "y": 54, "t": "m/z = 2790.5  Da"}]}, "mark": {"type": "text", "fontSize": 19, "color": "#000000"}, "encoding": {"x": {"field": "x", "type": "quantitative"}, "y": {"field": "y", "type": "quantitative"}, "text": {"field": "t"}}},
  {"data": {"values": [{"x": 2810.43, "x2": 2810.43, "y": 401.9, "y2": -196.9}, {"x": 2771.38, "x2": 2810.43, "y": 109.94, "y2": 109.94}]}, "mark": {"type": "rule", "color": "#000000", "strokeWidth": 1.5}, "encoding": {"x": {"field": "x", "type": "quantitative"}, "x2": {"field": "x2"}, "y": {"field": "y", "type": "quantitative"}, "y2": {"field": "y2"}}}
 ]},
 {"width": 514, "height": 162, "layer": [
  {"data": {"name": "F"}, "mark": {"type": "line", "color": "#ff0000", "strokeWidth": 1, "strokeJoin": "round"}, "encoding": {
   "x": {"field": "x", "type": "quantitative", "scale": {"domain": [2775, 2805], "nice": false, "zero": false}, "axis": {"title": "m/z (Da)", "values": [2775, 2780, 2785, 2790, 2795, 2800, 2805], "tickCount": 20}},
   "y": {"field": "y", "type": "quantitative", "scale": {"domain": [0, 100], "nice": false}, "axis": {"title": "Relative Intensity", "values": [0, 20, 40, 60, 80, 100], "tickCount": 20}}}},
  {"data": {"values": [{"x": 2803.26, "y": 84.6, "t": "Simulation"}]}, "mark": {"type": "text", "fontSize": 31, "color": "#ff0000"}, "encoding": {"x": {"field": "x", "type": "quantitative"}, "y": {"field": "y", "type": "quantitative"}, "text": {"field": "t"}}},
  {"data": {"values": [{"x": 2803.26, "y": 64.8, "t": "m/z = 2790.3 Da"}]}, "mark": {"type": "text", "fontSize": 19, "color": "#ff0000"}, "encoding": {"x": {"field": "x", "type": "quantitative"}, "y": {"field": "y", "type": "quantitative"}, "text": {"field": "t"}}}
 ]}
]},
{"spacing": 82, "bounds": "flush", "vconcat": [
 {"width": 519, "height": 162, "layer": [
  {"data": {"name": "C"}, "mark": {"type": "line", "color": "#000000", "strokeWidth": 1, "strokeJoin": "round"}, "encoding": {
   "x": {"field": "x", "type": "quantitative", "scale": {"domain": [1825, 1850], "nice": false, "zero": false}, "axis": {"title": "m/z (Da)", "values": [1825, 1830, 1835, 1840, 1845, 1850], "tickCount": 20}},
   "y": {"field": "y", "type": "quantitative", "scale": {"domain": [0, 100], "nice": false}, "axis": {"title": "Relative Intensity", "values": [0, 20, 40, 60, 80, 100], "tickCount": 20}}}},
  {"data": {"values": [{"x": 1821.27, "x2": 1851.78, "y": 108.95, "y2": 108.95}, {"x": 1851.78, "x2": 1851.78, "y": 108.95, "y2": -496.6}]}, "mark": {"type": "rule", "color": "#d0d0d0", "strokeWidth": 1}, "encoding": {"x": {"field": "x", "type": "quantitative"}, "x2": {"field": "x2"}, "y": {"field": "y", "type": "quantitative"}, "y2": {"field": "y2"}}},
  {"data": {"values": [{"x": 1845.7, "y": 86.4, "t": "[Cu₁₂S₆(dppt)₂]⁺"}]}, "mark": {"type": "text", "fontSize": 28, "color": "#000000"}, "encoding": {"x": {"field": "x", "type": "quantitative"}, "y": {"field": "y", "type": "quantitative"}, "text": {"field": "t"}}},
  {"data": {"values": [{"x": 1845.7, "y": 66.7, "t": "m/z = 1835.5 Da"}]}, "mark": {"type": "text", "fontSize": 19, "color": "#000000"}, "encoding": {"x": {"field": "x", "type": "quantitative"}, "y": {"field": "y", "type": "quantitative"}, "text": {"field": "t"}}}
 ]},
 {"width": 519, "height": 161, "layer": [
  {"data": {"name": "D"}, "mark": {"type": "line", "color": "#ff0000", "strokeWidth": 1, "strokeJoin": "round"}, "encoding": {
   "x": {"field": "x", "type": "quantitative", "scale": {"domain": [1825, 1850], "nice": false, "zero": false}, "axis": {"title": "m/z (Da)", "values": [1825, 1830, 1835, 1840, 1845, 1850], "tickCount": 20}},
   "y": {"field": "y", "type": "quantitative", "scale": {"domain": [0, 100], "nice": false}, "axis": {"title": "Relative Intensity", "values": [0, 20, 40, 60, 80, 100], "tickCount": 20}}}},
  {"data": {"values": [{"x": 1845.66, "y": 98, "t": "Simulation"}]}, "mark": {"type": "text", "fontSize": 31, "color": "#ff0000"}, "encoding": {"x": {"field": "x", "type": "quantitative"}, "y": {"field": "y", "type": "quantitative"}, "text": {"field": "t"}}},
  {"data": {"values": [{"x": 1845.66, "y": 78, "t": "m/z = 1835.3  Da"}]}, "mark": {"type": "text", "fontSize": 19, "color": "#ff0000"}, "encoding": {"x": {"field": "x", "type": "quantitative"}, "y": {"field": "y", "type": "quantitative"}, "text": {"field": "t"}}}
 ]},
 {"width": 519, "height": 162, "layer": [
  {"data": {"name": "G"}, "mark": {"type": "line", "color": "#000000", "strokeWidth": 1, "strokeJoin": "round"}, "encoding": {
   "x": {"field": "x", "type": "quantitative", "scale": {"domain": [3215, 3245], "nice": false, "zero": false}, "axis": {"title": "m/z (Da)", "values": [3215, 3220, 3225, 3230, 3235, 3240, 3245], "tickCount": 20}},
   "y": {"field": "y", "type": "quantitative", "scale": {"domain": [0, 100], "nice": false}, "axis": {"title": "Relative Intensity", "values": [0, 20, 40, 60, 80, 100], "tickCount": 20}}}},
  {"data": {"values": [{"x": 3245.5, "y": 75.3, "t": "[Cu₂₄S₁₂(dppt)₃]⁺"}]}, "mark": {"type": "text", "fontSize": 28, "color": "#000000"}, "encoding": {"x": {"field": "x", "type": "quantitative"}, "y": {"field": "y", "type": "quantitative"}, "text": {"field": "t"}}},
  {"data": {"values": [{"x": 3245.5, "y": 55.6, "t": "m/z = 3230.7 Da"}]}, "mark": {"type": "text", "fontSize": 19, "color": "#000000"}, "encoding": {"x": {"field": "x", "type": "quantitative"}, "y": {"field": "y", "type": "quantitative"}, "text": {"field": "t"}}},
  {"data": {"values": [{"x": 3210.52, "x2": 3251.07, "y": 109.26, "y2": 109.26}]}, "mark": {"type": "rule", "color": "#000000", "strokeWidth": 1.5}, "encoding": {"x": {"field": "x", "type": "quantitative"}, "x2": {"field": "x2"}, "y": {"field": "y", "type": "quantitative"}, "y2": {"field": "y2"}}}
 ]},
 {"width": 519, "height": 162, "layer": [
  {"data": {"name": "H"}, "mark": {"type": "line", "color": "#ff0000", "strokeWidth": 1, "strokeJoin": "round"}, "encoding": {
   "x": {"field": "x", "type": "quantitative", "scale": {"domain": [3215, 3245], "nice": false, "zero": false}, "axis": {"title": "m/z (Da)", "values": [3215, 3220, 3225, 3230, 3235, 3240, 3245], "tickCount": 20}},
   "y": {"field": "y", "type": "quantitative", "scale": {"domain": [0, 100], "nice": false}, "axis": {"title": "Relative Intensity", "values": [0, 20, 40, 60, 80, 100], "tickCount": 20}}}},
  {"data": {"values": [{"x": 3245.5, "y": 86.4, "t": "Simulation"}]}, "mark": {"type": "text", "fontSize": 31, "color": "#ff0000"}, "encoding": {"x": {"field": "x", "type": "quantitative"}, "y": {"field": "y", "type": "quantitative"}, "text": {"field": "t"}}},
  {"data": {"values": [{"x": 3245.5, "y": 66.7, "t": "m/z = 3230.5 Da"}]}, "mark": {"type": "text", "fontSize": 19, "color": "#ff0000"}, "encoding": {"x": {"field": "x", "type": "quantitative"}, "y": {"field": "y", "type": "quantitative"}, "text": {"field": "t"}}}
 ]}
]}
],
"config": {
 "view": {"stroke": null},
 "axis": {"labelFont": "Liberation Sans", "labelFontSize": 15, "labelColor": "#404040", "titleFont": "Liberation Sans", "titleFontSize": 18, "titleFontWeight": "normal", "titleColor": "#404040", "domainColor": "#bfbfbf", "ticks": false, "tickSize": 0, "grid": false, "labelFlush": false, "labelOverlap": false},
 "axisX": {"labelPadding": 12, "titlePadding": 9, "format": "d"},
 "axisY": {"labelPadding": 12, "titlePadding": 8},
 "text": {"font": "Inter"}
}
}
